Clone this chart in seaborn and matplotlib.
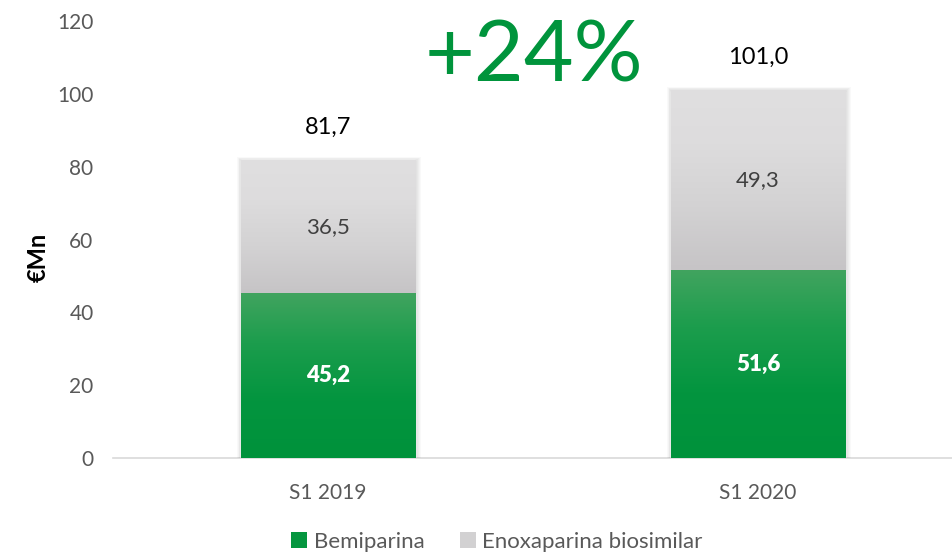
import numpy as np
import pandas as pd
import matplotlib
matplotlib.use("Agg")
import matplotlib.pyplot as plt
import seaborn as sns
from matplotlib.colors import LinearSegmentedColormap
from matplotlib.patches import Patch, Rectangle

# ---- data ----
periods = ["S1 2019", "S1 2020"]
bemiparina = [45.2, 51.6]
enoxaparina = [36.5, 49.3]
totals_lbl = ["81,7", "101,0"]
bemi_lbl = ["45,2", "51,6"]
enox_lbl = ["36,5", "49,3"]
growth_lbl = "+24%"
series_names = ["Bemiparina", "Enoxaparina biosimilar"]

totals = [b + e for b, e in zip(bemiparina, enoxaparina)]

sns.set_theme(style="white")
plt.rcParams["font.family"] = ["Lato", "DejaVu Sans"]

fig = plt.figure(figsize=(9.53, 5.52), dpi=100)
ax = fig.add_axes([113 / 953, 94 / 552, 860 / 953, 437 / 552])

df_tot = pd.DataFrame({"period": periods, "value": totals})
df_bem = pd.DataFrame({"period": periods, "value": bemiparina})

sns.barplot(data=df_tot, x="period", y="value", color="#dcdcdc", width=0.405,
            ax=ax, zorder=2, saturation=1)
n_tot = len(ax.patches)
sns.barplot(data=df_bem, x="period", y="value", color="#00943c", width=0.405,
            ax=ax, zorder=3, saturation=1)
tot_patches = ax.patches[:n_tot]
bem_patches = ax.patches[n_tot:]

green_cmap = LinearSegmentedColormap.from_list(
    "g", [(0.0, "#00923b"), (0.35, "#03953f"), (0.7, "#1c9d4d"), (1.0, "#41a45f")])
gray_cmap = LinearSegmentedColormap.from_list(
    "k", [(0.0, "#c6c4c6"), (0.35, "#d3d2d3"), (0.7, "#dddcdd"), (1.0, "#e0dfe0")])
grad = np.linspace(0, 1, 256).reshape(-1, 1)

for tp, bp in zip(tot_patches, bem_patches):
    x0, w = bp.get_x(), bp.get_width()
    gb, gh = bp.get_y(), bp.get_height()
    top = tp.get_y() + tp.get_height()
    # soft shadow (glow slightly offset down-right)
    for k in range(1, 7):
        px = 0.0018 * k
        py = 0.22 * k
        ax.add_patch(Rectangle((x0 - px + 0.002, gb - py - 0.3),
                               w + 2 * px, top - gb + 2 * py,
                               facecolor="black", alpha=0.022, lw=0, zorder=1))
    ax.imshow(grad, extent=(x0, x0 + w, gb, gb + gh), origin="lower",
              cmap=green_cmap, aspect="auto", zorder=3, interpolation="bicubic")
    ax.imshow(grad, extent=(x0, x0 + w, gb + gh, top), origin="lower",
              cmap=gray_cmap, aspect="auto", zorder=3, interpolation="bicubic")
    tp.set_facecolor("none")
    bp.set_facecolor("none")

# labels
for i, (tp, bp) in enumerate(zip(tot_patches, bem_patches)):
    cx = bp.get_x() + bp.get_width() / 2
    gh = bp.get_height()
    top = tp.get_height()
    ax.text(cx, gh / 2, bemi_lbl[i], ha="center", va="center", color="white",
            fontsize=16, fontweight="heavy", zorder=5)
    ax.text(cx, (gh + top) / 2, enox_lbl[i], ha="center", va="center",
            color="#404040", fontsize=16, zorder=5)
    ax.text(cx, top + 9, totals_lbl[i], ha="center", va="center",
            color="black", fontsize=17, zorder=5)

fig.text(534 / 953, 1 - 57 / 552, growth_lbl, ha="center", va="center",
         color="#00943c", fontsize=62)

ax.set_xlim(-0.5, 1.5)
ax.set_ylim(0, 120)
ax.set_yticks(range(0, 121, 20))
ax.tick_params(axis="both", length=0, labelsize=15, labelcolor="#595959")
ax.tick_params(axis="y", pad=14)
ax.tick_params(axis="x", pad=18)
ax.set_xlabel("")
ax.set_ylabel("€Mn", fontsize=17, fontweight="bold", color="black")
ax.yaxis.set_label_coords(-63 / 860, 0.46)
for s in ["top", "right", "left"]:
    ax.spines[s].set_visible(False)
ax.spines["bottom"].set_color("#d9d9d9")
ax.spines["bottom"].set_linewidth(1.2)
ax.spines["bottom"].set_zorder(0)

handles = [Patch(facecolor="#05963f", edgecolor="none"),
           Patch(facecolor="#d2d1d2", edgecolor="none")]
fig.legend(handles, series_names, loc="center", bbox_to_anchor=(497 / 953, 1 - 542 / 552),
           ncol=2, frameon=False, fontsize=16, labelcolor="#595959",
           handlelength=0.7, handleheight=0.7, handletextpad=0.3, columnspacing=1.6)

fig.savefig("out.png", dpi=100)
